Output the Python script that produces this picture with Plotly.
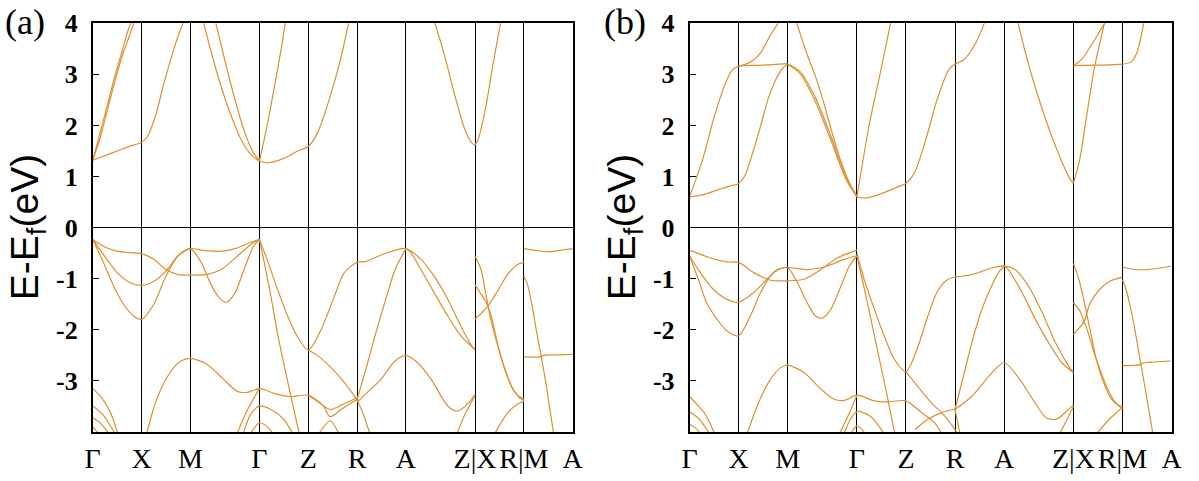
import plotly.graph_objects as go

# ---------------- k-path (high-symmetry points) ----------------
K_POINTS = [0, 1, 2, 3.414, 4.414, 5.414, 6.414, 7.828, 8.828, 9.828]
K_LABELS = ["Γ", "X", "M", "Γ", "Z", "R", "A", "Z|X", "R|M", "A"]
Y_TICKS = [4, 3, 2, 1, 0, -1, -2, -3]
Y_LABELS = ["4", "3", "2", "1", "0", "-1", "-2", "-3"]

# ---------------- panel (a) bands: (k, E) ----------------
A_C1 = [(0, 1.32), (0.25, 1.41), (0.5, 1.50), (0.75, 1.59), (1, 1.67), (1.12, 1.78), (1.29, 2.2),
        (1.45, 2.8), (1.6, 3.3), (1.75, 3.75), (1.87, 4.05)]
A_C2a = [(0, 1.32), (0.15, 1.75), (0.3, 2.3), (0.45, 2.85), (0.6, 3.35), (0.75, 3.75), (0.86, 4.05)]
A_C2b = [(0, 1.32), (0.15, 1.85), (0.3, 2.4), (0.45, 2.95), (0.6, 3.45), (0.72, 3.85), (0.8, 4.05)]
A_C3a = [(2.26, 4.05), (2.45, 3.35), (2.65, 2.7), (2.85, 2.15), (3.05, 1.7), (3.25, 1.42), (3.414, 1.30)]
A_C3b = [(2.51, 4.05), (2.7, 3.3), (2.9, 2.55), (3.1, 1.9), (3.3, 1.45), (3.414, 1.32)]
A_C4 = [(3.414, 1.30), (3.59, 1.27), (3.9, 1.35), (4.2, 1.50), (4.414, 1.59), (4.6, 1.85), (4.84, 2.5),
        (5.07, 3.28), (5.25, 4.05)]
A_C5 = [(3.414, 1.30), (3.55, 1.9), (3.7, 2.65), (3.85, 3.45), (3.95, 4.05)]
A_C6a = [(6.99, 4.05), (7.19, 3.42), (7.42, 2.57), (7.62, 1.92), (7.77, 1.65), (7.828, 1.62)]
A_C6b = [(7.828, 1.62), (7.89, 1.72), (8.05, 2.37), (8.2, 3.22), (8.36, 4.05)]

A_V1 = [(0, -0.23), (0.25, -0.38), (0.5, -0.46), (0.75, -0.49), (1, -0.51), (1.25, -0.62), (1.5, -0.82),
        (1.75, -0.92), (2, -0.93), (2.36, -0.91), (2.63, -0.82), (2.97, -0.55), (3.24, -0.33), (3.414, -0.23)]
A_V2 = [(0, -0.23), (0.29, -0.62), (0.5, -0.88), (0.77, -1.08), (1, -1.13), (1.25, -1.05), (1.5, -0.85),
        (1.75, -0.55), (2, -0.41), (2.3, -0.45), (2.65, -0.46), (2.95, -0.40), (3.2, -0.30), (3.414, -0.23)]
A_V3 = [(0, -0.23), (0.22, -0.68), (0.43, -1.14), (0.63, -1.5), (0.84, -1.73), (1, -1.80), (1.25, -1.5),
        (1.5, -0.95), (1.75, -0.55), (2, -0.41), (2.22, -0.68), (2.42, -1.11), (2.59, -1.37), (2.73, -1.46),
        (2.9, -1.3), (3.1, -0.82), (3.28, -0.39), (3.414, -0.23)]
A_V4 = [(3.414, -0.23), (3.6, -0.7), (3.8, -1.25), (4.0, -1.75), (4.2, -2.15), (4.414, -2.40),
        (4.68, -1.99), (4.95, -1.34), (5.15, -0.88), (5.414, -0.68), (5.6, -0.66), (5.8, -0.58),
        (6.0, -0.5), (6.2, -0.44), (6.414, -0.41), (6.72, -0.62), (6.99, -0.95), (7.27, -1.40),
        (7.54, -1.93), (7.75, -2.3), (7.828, -2.39)]
A_V5 = [(3.414, -0.23), (3.5, -0.62), (3.65, -1.35), (3.8, -2.15), (4.0, -3.05), (4.21, -3.95), (4.23, -4.05)]
A_V6 = [(6.414, -0.41), (6.52, -0.5), (6.72, -0.82), (6.99, -1.27), (7.27, -1.73), (7.54, -2.12), (7.828, -2.39)]
A_V7 = [(5.414, -3.36), (5.6, -2.75), (5.8, -2.05), (6.0, -1.4), (6.2, -0.8), (6.414, -0.41)]
A_V8 = [(7.828, -0.56), (7.95, -0.82), (8.05, -1.3), (8.15, -1.8), (8.29, -2.3), (8.43, -2.75),
        (8.56, -3.08), (8.7, -3.28), (8.828, -3.36)]
A_V9 = [(7.828, -1.12), (7.95, -1.3), (8.05, -1.45), (8.15, -1.7), (8.25, -2.1), (8.35, -2.5),
        (8.47, -2.85), (8.6, -3.15), (8.74, -3.33), (8.828, -3.38)]
A_V10 = [(7.828, -1.79), (7.95, -1.68), (8.12, -1.5), (8.29, -1.24), (8.5, -0.91), (8.7, -0.72), (8.828, -0.68)]
A_V11 = [(8.828, -0.41), (9.1, -0.45), (9.35, -0.47), (9.6, -0.44), (9.828, -0.41)]
A_V12 = [(8.828, -0.95), (8.9, -1.1), (9.0, -1.55), (9.1, -2.1), (9.18, -2.5), (9.28, -3.05),
         (9.36, -3.55), (9.44, -4.05)]
A_V13 = [(8.828, -2.53), (9.15, -2.53), (9.22, -2.50), (9.5, -2.49), (9.828, -2.48)]

A_D1 = [(1.1, -4.05), (1.31, -3.36), (1.58, -2.84), (1.79, -2.62), (2.0, -2.56), (2.33, -2.67),
        (2.68, -2.97), (2.95, -3.2), (3.15, -3.23), (3.414, -3.15), (3.77, -3.26), (4.04, -3.31),
        (4.414, -3.28), (4.72, -3.49), (4.86, -3.70), (5.1, -3.55), (5.414, -3.36)]
A_D2 = [(4.414, -2.40), (4.6, -2.5), (4.86, -2.72), (5.1, -2.97), (5.3, -3.22), (5.414, -3.38),
        (5.55, -3.68), (5.68, -4.05)]
A_D3 = [(5.414, -3.42), (5.65, -3.2), (5.9, -2.97), (6.18, -2.62), (6.414, -2.50), (6.65, -2.64),
        (6.93, -2.97), (7.27, -3.49), (7.47, -3.59), (7.68, -3.45), (7.828, -3.27)]
A_D4 = [(7.45, -4.05), (7.6, -3.7), (7.72, -3.48), (7.828, -3.28)]
A_D5 = [(8.22, -4.05), (8.5, -3.62), (8.7, -3.45), (8.828, -3.40)]
A_D6a = [(0, -3.15), (0.15, -3.29), (0.35, -3.59), (0.52, -4.05)]
A_D6b = [(0, -3.49), (0.2, -3.65), (0.47, -4.05)]
A_D6c = [(0, -3.72), (0.15, -3.82), (0.35, -4.05)]
A_D6d = [(0, -3.9), (0.14, -4.05)]
A_D7 = [(2.95, -4.05), (3.15, -3.6), (3.414, -3.15)]
A_D8 = [(3.08, -4.05), (3.22, -3.68), (3.414, -3.49), (3.63, -3.55), (3.9, -3.74), (4.11, -4.05)]
A_D9 = [(3.22, -4.05), (3.414, -3.82), (3.6, -3.92), (3.7, -4.05)]
A_D10 = [(4.62, -4.05), (4.86, -3.78), (5.05, -4.05)]
A_D11 = [(4.414, -3.28), (4.6, -3.4), (4.86, -3.56), (5.1, -3.47), (5.414, -3.33)]

# ---------------- panel (b) bands: (k, E) ----------------
B_C1 = [(0, 0.60), (0.3, 0.65), (0.6, 0.75), (0.85, 0.82), (1, 0.86), (1.12, 1.0), (1.29, 1.47),
        (1.45, 1.99), (1.6, 2.51), (1.76, 2.9), (1.9, 3.12), (2, 3.2)]
B_C2 = [(0, 0.60), (0.14, 0.97), (0.27, 1.34), (0.51, 2.19), (0.74, 2.84), (0.86, 3.07), (1, 3.16),
        (1.5, 3.18), (2, 3.21)]
B_C3 = [(1, 3.16), (1.15, 3.2), (1.29, 3.27), (1.45, 3.42), (1.64, 3.75), (1.84, 4.05)]
B_C4a = [(2, 3.2), (2.25, 3.02), (2.56, 2.48), (2.88, 1.72), (3.19, 0.95), (3.414, 0.6)]
B_C4b = [(2, 3.2), (2.25, 3.06), (2.56, 2.56), (2.88, 1.8), (3.19, 1.0), (3.414, 0.62)]
B_C5 = [(2.17, 4.05), (2.41, 3.36), (2.565, 2.97), (2.72, 2.5), (2.88, 1.95), (3.05, 1.4), (3.25, 0.9), (3.414, 0.6)]
B_C6 = [(3.414, 0.6), (3.6, 0.58), (3.9, 0.66), (4.2, 0.78), (4.414, 0.87), (4.59, 1.08), (4.82, 1.73),
        (5.05, 2.51), (5.29, 3.1), (5.414, 3.2), (5.6, 3.29), (5.84, 3.62), (6.03, 4.05)]
B_C7 = [(3.414, 0.6), (3.66, 1.99), (3.89, 3.03), (4.11, 4.05)]
B_C8 = [(6.69, 4.05), (6.85, 3.42), (7.17, 2.38), (7.49, 1.53), (7.76, 0.95), (7.828, 0.87)]
B_C9 = [(7.828, 0.87), (7.95, 1.3), (8.1, 2.2), (8.25, 3.1), (8.4, 3.75), (8.47, 4.05)]
B_C10 = [(7.828, 3.17), (8.3, 3.18), (8.828, 3.2), (9.0, 3.24), (9.12, 3.42), (9.27, 4.05)]
B_C11 = [(7.828, 3.17), (8.0, 3.3), (8.2, 3.58), (8.4, 3.9), (8.5, 4.05)]

B_V1 = [(0, -0.44), (0.42, -0.59), (0.76, -0.67), (1, -0.68), (1.31, -0.88), (1.65, -1.03), (2, -1.04),
        (2.33, -1.01), (2.68, -0.82), (3.02, -0.59), (3.414, -0.44)]
B_V2 = [(0, -0.55), (0.22, -0.88), (0.49, -1.21), (0.76, -1.4), (1, -1.46), (1.31, -1.27), (1.58, -1.01),
        (1.79, -0.82), (2, -0.78), (2.4, -0.82), (2.81, -0.75), (3.15, -0.62), (3.414, -0.55)]
B_V3 = [(0, -0.55), (0.18, -1.01), (0.35, -1.47), (0.56, -1.79), (0.76, -2.02), (1, -2.12), (1.24, -1.73),
        (1.45, -1.27), (1.65, -0.95), (1.82, -0.82), (2, -0.78), (2.2, -1.08), (2.4, -1.47), (2.57, -1.73),
        (2.71, -1.77), (2.88, -1.6), (3.09, -1.14), (3.26, -0.75), (3.414, -0.55)]
B_V4 = [(3.414, -0.5), (3.56, -1.01), (3.77, -1.6), (3.97, -2.12), (4.18, -2.58), (4.414, -2.82),
        (4.66, -2.32), (4.86, -1.73), (5.06, -1.24), (5.27, -1.01), (5.414, -0.97), (5.7, -0.93),
        (5.95, -0.86), (6.2, -0.78), (6.414, -0.75), (6.64, -0.82), (6.91, -1.14), (7.19, -1.66),
        (7.46, -2.25), (7.73, -2.71), (7.828, -2.84)]
B_V5 = [(3.414, -0.55), (3.6, -1.35), (3.8, -2.25), (4.0, -3.15), (4.19, -4.05)]
B_V6 = [(6.414, -0.75), (6.5, -0.82), (6.78, -1.27), (7.05, -1.79), (7.32, -2.25), (7.59, -2.64), (7.828, -2.84)]
B_V7 = [(5.414, -3.56), (5.6, -2.85), (5.8, -2.1), (6.0, -1.5), (6.16, -1.14), (6.3, -0.88), (6.414, -0.75)]
B_V8 = [(7.828, -0.70), (7.93, -0.98), (8.03, -1.37), (8.13, -1.83), (8.2, -2.15), (8.27, -2.48),
        (8.43, -3.0), (8.6, -3.35), (8.75, -3.48), (8.828, -3.5)]
B_V9 = [(7.828, -1.47), (7.96, -1.63), (8.05, -1.85), (8.15, -2.12), (8.25, -2.45), (8.36, -2.75),
        (8.5, -3.1), (8.65, -3.38), (8.828, -3.55)]
B_V10 = [(7.828, -2.09), (7.95, -1.96), (8.05, -1.83), (8.16, -1.5), (8.36, -1.21), (8.57, -1.05), (8.828, -0.97)]
B_V11 = [(8.828, -0.77), (9.1, -0.82), (9.35, -0.82), (9.6, -0.79), (9.828, -0.75)]
B_V12 = [(8.828, -1.02), (8.9, -1.2), (9.0, -1.6), (9.1, -2.1), (9.2, -2.65), (9.3, -3.2), (9.38, -3.65), (9.45, -4.05)]
B_V13 = [(8.828, -2.70), (9.2, -2.68), (9.25, -2.65), (9.5, -2.63), (9.828, -2.61)]

B_D1 = [(1.17, -4.05), (1.38, -3.49), (1.65, -2.97), (1.86, -2.74), (2.0, -2.69), (2.34, -2.84),
        (2.68, -3.16), (2.95, -3.36), (3.16, -3.38), (3.414, -3.28), (3.77, -3.39), (4.04, -3.41),
        (4.414, -3.39), (4.73, -3.62), (5.0, -3.82), (5.15, -4.05)]
B_D2 = [(4.414, -2.82), (4.73, -3.2), (4.95, -3.45), (5.14, -3.62), (5.3, -3.8), (5.48, -4.05)]
B_D3 = [(4.6, -3.95), (4.86, -3.75), (5.14, -3.62), (5.414, -3.55)]
B_D4 = [(5.414, -3.56), (5.77, -3.29), (6.11, -2.9), (6.414, -2.64), (6.72, -2.95), (7.0, -3.36),
        (7.27, -3.72), (7.48, -3.75), (7.68, -3.6), (7.828, -3.47)]
B_D5 = [(7.54, -4.05), (7.7, -3.75), (7.828, -3.5)]
B_D6 = [(8.29, -4.05), (8.56, -3.75), (8.828, -3.52)]
B_D7a = [(0, -3.3), (0.15, -3.46), (0.32, -3.65), (0.52, -4.05)]
B_D7b = [(0, -3.6), (0.2, -3.75), (0.42, -4.05)]
B_D7c = [(0, -3.85), (0.12, -3.92), (0.24, -4.05)]
B_D8 = [(3.05, -4.05), (3.25, -3.65), (3.414, -3.28)]
B_D9 = [(3.15, -4.05), (3.28, -3.75), (3.414, -3.6), (3.7, -3.7), (3.98, -4.05)]
B_D10 = [(3.28, -4.05), (3.414, -3.88), (3.6, -4.05)]
B_D11 = [(5.414, -3.56), (5.52, -4.05)]

PANEL_A = [A_C1, A_C2a, A_C2b, A_C3a, A_C3b, A_C4, A_C5, A_C6a, A_C6b,
           A_V1, A_V2, A_V3, A_V4, A_V5, A_V6, A_V7, A_V8, A_V9, A_V10, A_V11, A_V12, A_V13,
           A_D1, A_D2, A_D3, A_D4, A_D5, A_D6a, A_D6b, A_D6c, A_D6d, A_D7, A_D8, A_D9, A_D10, A_D11]
PANEL_B = [B_C1, B_C2, B_C3, B_C4a, B_C4b, B_C5, B_C6, B_C7, B_C8, B_C9, B_C10, B_C11,
           B_V1, B_V2, B_V3, B_V4, B_V5, B_V6, B_V7, B_V8, B_V9, B_V10, B_V11, B_V12, B_V13,
           B_D1, B_D2, B_D3, B_D4, B_D5, B_D6, B_D7a, B_D7b, B_D7c, B_D8, B_D9, B_D10, B_D11]

BAND_COLOR = "#DE9030"
SERIF = "Liberation Serif, Times New Roman, serif"
SANS = "Liberation Sans, Arial, sans-serif"

W, H = 1199, 481
fig = go.Figure()

for curves, xa, ya in [(PANEL_A, "x", "y"), (PANEL_B, "x2", "y2")]:
    for c in curves:
        fig.add_trace(go.Scatter(
            x=[p[0] for p in c], y=[p[1] for p in c], mode="lines",
            line=dict(color=BAND_COLOR, width=1.2, shape="spline", smoothing=0.8),
            xaxis=xa, yaxis=ya, showlegend=False, hoverinfo="skip"))

ydom = [(H - 432) / H, (H - 23.3) / H]
xdoms = [[92.7 / W, 572.7 / W], [689.5 / W, 1171.5 / W]]

def xaxis_cfg(dom):
    return dict(domain=dom, range=[0, 9.828], tickmode="array", tickvals=K_POINTS, ticktext=K_LABELS,
                showgrid=True, gridcolor="black", gridwidth=1.3, showline=True, mirror=True,
                linecolor="black", linewidth=1.5, ticks="", zeroline=False, tickangle=0,
                automargin=False,
                tickfont=dict(family=SERIF, size=28, color="black"), ticklabelstandoff=1)

def yaxis_cfg(anchor):
    return dict(domain=ydom, range=[-4, 4], tickmode="array", tickvals=Y_TICKS,
                ticktext=["<b>%s</b>" % t for t in Y_LABELS], automargin=False,
                showgrid=False, zeroline=True, zerolinecolor="black", zerolinewidth=1.3,
                showline=True, mirror=True, linecolor="black", linewidth=1.5, anchor=anchor,
                ticks="inside", ticklen=7, tickcolor="black", tickwidth=1.2,
                tickfont=dict(family=SERIF, size=26, color="black", weight="bold"), ticklabelstandoff=8)

fig.update_layout(
    width=W, height=H, margin=dict(l=0, r=0, t=0, b=0, autoexpand=False),
    paper_bgcolor="white", plot_bgcolor="white",
    xaxis=dict(anchor="y", **xaxis_cfg(xdoms[0])),
    yaxis=yaxis_cfg("x"),
    xaxis2=dict(anchor="y2", **xaxis_cfg(xdoms[1])),
    yaxis2=yaxis_cfg("x2"),
)

ymid = (ydom[0] + ydom[1]) / 2
for xc in [27.5, 624.5]:
    fig.add_annotation(x=xc / W, y=ymid, xref="paper", yref="paper", text="E-E<sub>f</sub>(eV)",
                       textangle=-90, showarrow=False, xanchor="center", yanchor="middle",
                       font=dict(family=SANS, size=39, color="black"))
for xc, lab in [(25, "(a)"), (625, "(b)")]:
    fig.add_annotation(x=xc / W, y=(H - 22) / H, xref="paper", yref="paper", text=lab,
                       showarrow=False, xanchor="center", yanchor="middle",
                       font=dict(family=SERIF, size=36, color="black"))

fig.write_html("out.html")
